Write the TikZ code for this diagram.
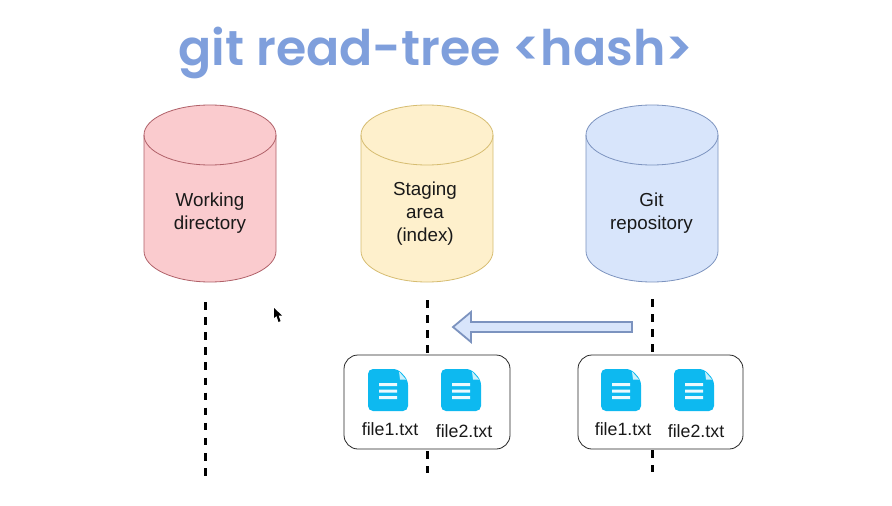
\documentclass[tikz,border=0pt]{standalone}
\usepackage{fontspec}
\setmainfont{Liberation Sans}
\newfontfamily\titlefont{Poppins}[UprightFont=*-SemiBold]
\definecolor{redfill}{HTML}{FACBCE}\definecolor{redline}{HTML}{B06068}
\definecolor{yelfill}{HTML}{FEF0CC}\definecolor{yelline}{HTML}{D6BC70}
\definecolor{blufill}{HTML}{D8E5FB}\definecolor{bluline}{HTML}{7C93BF}
\definecolor{titleblue}{HTML}{7F9FDC}\definecolor{fileblue}{HTML}{0DB9F0}
\tikzset{
  x=1pt,y=-1pt,
  lbl/.style={align=center,font=\fontsize{18.8}{23}\selectfont,text=black!90},
  flabel/.style={font=\fontsize{17.8}{18}\selectfont,text=black!90},
  guide/.style={line width=3pt,dash pattern=on 7.5pt off 7.6pt},
  holder/.style={draw=black!85,line width=0.8pt,fill=white,rounded corners=14pt},
  cyl/.pic={
    \path[pic actions,line width=0.8pt] (-66,30) arc[start angle=180,end angle=360,x radius=66,y radius=30]
      -- (66,146) arc[start angle=0,end angle=180,x radius=66,y radius=31] -- cycle;
    \draw[pic actions,fill=none,line width=0.8pt] (-66,30) arc[start angle=180,end angle=0,x radius=66,y radius=30];
  },
  doc/.pic={
    \fill[fileblue,rounded corners=5pt] (0,0) -- (30,0) -- (40,11) -- (40,42) -- (0,42) -- cycle;
    \fill[white!78!fileblue] (31,2.5) -- (38,10.5) -- (32,10.5) -- cycle;
    \fill[white!92!fileblue] (11,14) rectangle (29,17) (11,20.5) rectangle (29,23.5) (11,27) rectangle (29,30);
  }
}
\begin{document}
\begin{tikzpicture}
\useasboundingbox (0,0) rectangle (892,506);
\fill[white] (0,0) rectangle (892,506);
\node[text=titleblue,font=\titlefont\fontsize{49}{60}\selectfont] (title) at (436,53) {git read-tree <hash>};

\pic[draw=redline,fill=redfill] at (210,105) {cyl};
\pic[draw=yelline,fill=yelfill] at (427,105) {cyl};
\pic[draw=bluline,fill=blufill] at (652,105) {cyl};
\node[lbl] (wd) at (210,213.5) {Working\\directory};
\node[lbl] (sa) at (425,213.5) {Staging\\area\\(index)};
\node[lbl] (gr) at (651.5,213.5) {Git\\repository};

\coordinate (a1) at (205,302); \coordinate (a2) at (205,476.5);
\coordinate (b1) at (427,300); \coordinate (b2) at (427,473);
\coordinate (c1) at (652,299); \coordinate (c2) at (652,472);
\draw[guide] (a1) -- (a2);
\draw[guide] (b1) -- (b2);
\draw[guide] (c1) -- (c2);

\draw[draw=bluline,fill=blufill,line width=1.8pt,line join=miter]
  (632,322) -- (471,322) -- (471,312) -- (453,327) -- (471,342) -- (471,332) -- (632,332) -- cycle;

\draw[holder] (344,355) rectangle (510,449);
\draw[holder] (578,355) rectangle (743,449);

\pic at (368,369) {doc};
\pic at (441,369) {doc};
\pic at (601,369) {doc};
\pic at (674,369) {doc};
\node[flabel] (f1) at (390,429) {file1.txt};
\node[flabel] (f2) at (464,431) {file2.txt};
\node[flabel] (f3) at (623,429) {file1.txt};
\node[flabel] (f4) at (696,431) {file2.txt};

\fill[black] (274,308) -- (274,318) -- (276.5,316) -- (278.5,322) -- (280.5,321) -- (278.5,315.5) -- (282,315.5) -- cycle;
\end{tikzpicture}
\end{document}
